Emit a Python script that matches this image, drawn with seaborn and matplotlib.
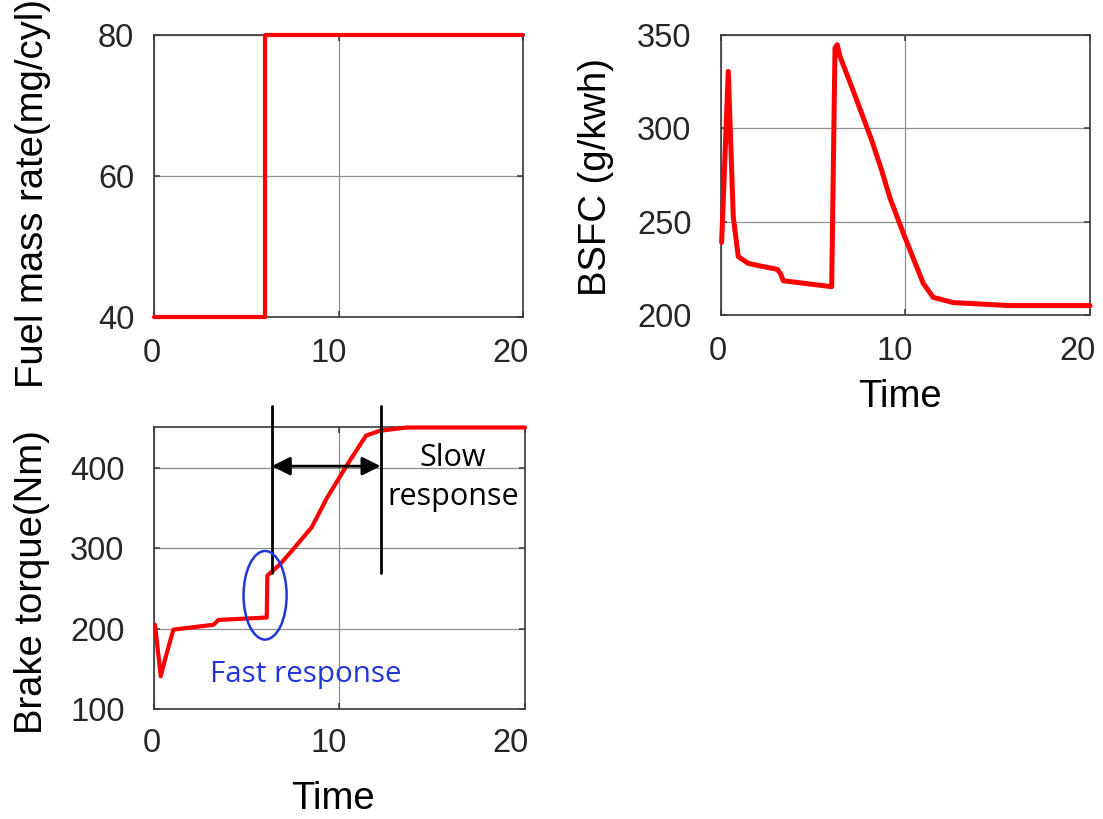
import numpy as np
import pandas as pd
import matplotlib
matplotlib.use("Agg")
import matplotlib.pyplot as plt
import seaborn as sns
from matplotlib.patches import Ellipse
from matplotlib.transforms import ScaledTranslation

# ---- data ----
fuel_time = [0, 6.0, 6.0, 20]
fuel_rate = [40, 40, 80, 80]

bsfc_time = [0.05, 0.41, 0.68, 0.95, 1.49, 2.13, 3.07, 3.25, 3.39, 6.01, 6.19,
             6.31, 6.46, 7.09, 8.17, 8.71, 9.17, 9.89, 10.97, 11.51, 12.6, 15.66, 20]
bsfc_val = [239, 330.5, 252.8, 231.4, 227.8, 226.4, 224.6, 222, 218.5, 215.3, 343,
            344.8, 338.5, 322.4, 293.9, 277.8, 262.7, 243.9, 217.1, 209.6, 206.8, 205.2, 205.2]

torque_time = [0.07, 0.38, 0.61, 1.06, 3.22, 3.49, 6.09, 6.12, 6.8, 7.52, 8.51,
               9.32, 10.4, 11.44, 12.19, 13.63, 20]
torque_val = [205, 141, 162, 199, 205, 211, 214, 266, 280, 299, 326,
              362, 403, 440, 446, 450, 450]

x_ticks = [0, 10, 20]
fuel_ticks = [40, 60, 80]
bsfc_ticks = [200, 250, 300, 350]
torque_ticks = [100, 200, 300, 400]

marker_times = [6.36, 12.22]
marker_span = [269, 477]
arrow_level = 402
ellipse_center = (6.0, 241.6)
ellipse_size = (2.32, 110)

# ---- style ----
sns.set_theme(style="white")
plt.rcParams["font.family"] = ["Liberation Sans", "DejaVu Sans"]

W, H = 1103, 819
fig = plt.figure(figsize=(W / 100, H / 100), dpi=100)


def px_axes(x0, y0, x1, y1):
    return fig.add_axes([x0 / W, 1 - y1 / H, (x1 - x0) / W, (y1 - y0) / H])


RED = "#ff0000"
TICK_COL = "#262626"
SPINE_COL = "#3a3a3a"


def style_axes(ax, xlim, ylim, yticks, ypad, xpad, xshift):
    ax.set_xlim(*xlim)
    ax.set_ylim(*ylim)
    ax.set_xticks(x_ticks)
    ax.set_yticks(yticks)
    ax.grid(True, color="#8f8f8f", linewidth=0.9)
    for s in ax.spines.values():
        s.set_color(SPINE_COL)
        s.set_linewidth(1.2)
        s.set_visible(True)
    ax.tick_params(axis="both", direction="in", length=4, width=1.1, color=SPINE_COL,
                   labelsize=23.5, labelcolor=TICK_COL, top=True, right=True,
                   bottom=True, left=True)
    ax.tick_params(axis="y", pad=ypad)
    ax.tick_params(axis="x", pad=xpad)
    ax.set_xlabel("")
    ax.set_ylabel("")
    for tick, dx in zip(ax.xaxis.get_major_ticks(), xshift):
        tick.label1.set_transform(tick.label1.get_transform() +
                                  ScaledTranslation(dx / 100, 0, fig.dpi_scale_trans))


# Top-left: fuel
ax1 = px_axes(153.7, 34.7, 523.3, 316.7)
sns.lineplot(x=fuel_time, y=fuel_rate, ax=ax1, color=RED, linewidth=3.0,
             sort=False, estimator=None, clip_on=False, zorder=5)
style_axes(ax1, (0, 20), (40, 80), fuel_ticks, 14, 15, [-2, -10, -12.5])

# Top-right: BSFC
ax2 = px_axes(720.7, 35, 1090, 315.3)
sns.lineplot(x=bsfc_time, y=bsfc_val, ax=ax2, color=RED, linewidth=3.6,
             sort=False, estimator=None, clip_on=False, zorder=5)
style_axes(ax2, (0, 20), (200, 350), bsfc_ticks, 21, 15, [-3, -11, -12.5])

# Bottom-left: torque
ax3 = px_axes(153.7, 426.7, 525, 709.3)
sns.lineplot(x=torque_time, y=torque_val, ax=ax3, color=RED, linewidth=3.0,
             sort=False, estimator=None, clip_on=False, zorder=5)
style_axes(ax3, (0, 20), (100, 451), torque_ticks, 21, 13.5, [-2, -11, -14])

# annotations on torque
for t in marker_times:
    ax3.plot([t, t], marker_span, color="black", linewidth=2.0, clip_on=False, zorder=6)
ax3.annotate("", xy=(marker_times[0], arrow_level), xytext=(marker_times[1], arrow_level),
             arrowprops=dict(arrowstyle="<|-|>", color="black", lw=2.0,
                             mutation_scale=28, shrinkA=0, shrinkB=0), zorder=6)
ax3.add_patch(Ellipse(ellipse_center, ellipse_size[0], ellipse_size[1], fill=False,
                      edgecolor="#2235d8", linewidth=1.8, zorder=6))
ax3.text(16.12, 388, "Slow\nresponse", ha="center", va="center", fontsize=22,
         family=["Open Sans", "DejaVu Sans"], color="black", linespacing=1.4, zorder=7)
ax3.text(8.2, 134.4, "Fast response", ha="center", va="baseline", fontsize=21.3,
         family=["Open Sans", "DejaVu Sans"], color="#2235d8", zorder=7)

# axis labels placed in pixel coordinates
LAB = 27.5


def fig_text(x, y, s, **kw):
    fig.text(x / W, 1 - y / H, s, fontsize=LAB, color="black", **kw)


fig_text(33, 194, "Fuel mass rate(mg/cyl)", rotation=90, ha="center", va="center")
fig_text(596, 177.5, "BSFC (g/kwh)", rotation=90, ha="center", va="center")
fig_text(32, 582.5, "Brake torque(Nm)", rotation=90, ha="center", va="center")
fig_text(900, 397, "Time", ha="center", va="center")
fig_text(333, 799, "Time", ha="center", va="center")

fig.savefig("out.png", dpi=100, facecolor="white")
